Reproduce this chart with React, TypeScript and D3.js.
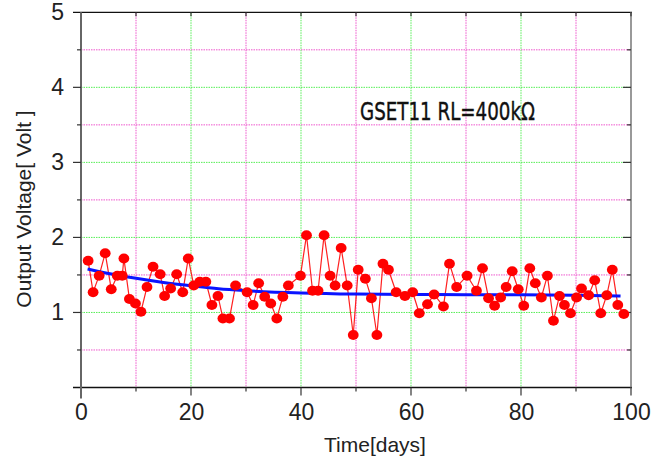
import React, { useRef, useEffect } from "react";
import * as d3 from "d3";

const days = [
  1.3, 2.2, 3.3, 4.4, 5.5, 6.6, 7.5, 7.8, 8.8, 9.9,
  10.9, 12.0, 13.1, 14.4, 15.2, 16.3, 17.4, 18.5, 19.5, 20.5,
  21.6, 22.7, 23.8, 24.9, 25.8, 27.0, 28.1, 30.2, 31.3, 32.3,
  33.4, 34.5, 35.6, 36.7, 37.7, 39.9, 41.0, 42.1, 43.1, 44.2,
  45.3, 46.2, 47.3, 48.4, 49.5, 50.4, 51.7, 52.8, 53.8, 54.9,
  55.9, 57.3, 58.9, 60.3, 61.5, 63.0, 64.2, 65.9, 67.0, 68.3,
  70.2, 71.9, 73.0, 74.1, 75.2, 76.3, 77.3, 78.4, 79.5, 80.5,
  81.6, 82.6, 83.7, 84.8, 85.9, 87.0, 87.9, 89.0, 90.1, 91.0,
  92.3, 93.4, 94.5, 95.6, 96.6, 97.6, 98.7,
];
const voltage = [
  1.69, 1.27, 1.49, 1.79, 1.31, 1.49, 1.49, 1.72, 1.18, 1.12,
  1.01, 1.34, 1.61, 1.51, 1.22, 1.32, 1.51, 1.27, 1.72, 1.36,
  1.41, 1.41, 1.1, 1.22, 0.92, 0.92, 1.36, 1.27, 1.1, 1.39,
  1.21, 1.12, 0.92, 1.21, 1.36, 1.49, 2.03, 1.29, 1.29, 2.03,
  1.49, 1.36, 1.86, 1.36, 0.7, 1.57, 1.45, 1.19, 0.7, 1.65,
  1.57, 1.27, 1.22, 1.27, 0.99, 1.11, 1.24, 1.08, 1.65, 1.34,
  1.49, 1.29, 1.59, 1.19, 1.09, 1.2, 1.34, 1.55, 1.31, 1.09,
  1.59, 1.39, 1.2, 1.49, 0.89, 1.22, 1.1, 0.99, 1.2, 1.32,
  1.23, 1.43, 0.99, 1.23, 1.57, 1.1, 0.98,
];

// fitted trend (blue)
const trendDays = [1.2, 5, 10, 15, 20, 25, 30, 40, 50, 60, 70, 80, 90, 98.1];
const trendVolt = [1.58, 1.52, 1.455, 1.4, 1.355, 1.315, 1.29, 1.26, 1.245, 1.24, 1.237, 1.235, 1.23, 1.22];

const xTickLabels = [0, 20, 40, 60, 80, 100];
const yTickLabels = [1, 2, 3, 4, 5];
const annotation = "GSET11 RL=400k\u03a9";

const LABEL_FONT = "'Liberation Sans', Arial, sans-serif";

const VoltageChart = () => {
  const svgRef = useRef(null);

  useEffect(() => {
    const svg = d3.select(svgRef.current);
    svg.selectAll("*").remove();

    const x = d3.scaleLinear().domain([0, 100]).range([81, 631]);
    const y = d3.scaleLinear().domain([0, 5]).range([387.5, 12.3]);
    const [x0, x1] = x.range();
    const [yb, yt] = y.range();

    const green = "#55ee55";
    const pink = "#ee55cc";

    // grid lines
    const grid = svg.append("g");
    grid
      .selectAll("line.v")
      .data(d3.range(10, 100, 10))
      .enter()
      .append("line")
      .attr("x1", (d) => x(d))
      .attr("x2", (d) => x(d))
      .attr("y1", yt)
      .attr("y2", yb)
      .attr("stroke", (d) => (d % 20 === 0 ? green : pink))
      .attr("stroke-width", 1)
      .attr("stroke-dasharray", "1.5,1");
    grid
      .selectAll("line.h")
      .data(d3.range(0.5, 5, 0.5))
      .enter()
      .append("line")
      .attr("x1", x0)
      .attr("x2", x1)
      .attr("y1", (d) => y(d))
      .attr("y2", (d) => y(d))
      .attr("stroke", (d) => (d % 1 === 0 ? green : pink))
      .attr("stroke-width", 1)
      .attr("stroke-dasharray", "1.5,1");

    // frame
    const frame = svg.append("g");
    frame.append("line").attr("x1", x0 - 8).attr("x2", x1 + 1).attr("y1", yt).attr("y2", yt)
      .attr("stroke", "#111").attr("stroke-width", 1.2);
    frame.append("line").attr("x1", x0 - 8).attr("x2", x1 + 1).attr("y1", yb).attr("y2", yb)
      .attr("stroke", "#111").attr("stroke-width", 1.4);
    frame.append("line").attr("x1", x1).attr("x2", x1).attr("y1", yt).attr("y2", yb)
      .attr("stroke", "#777").attr("stroke-width", 1.5);
    frame.append("line").attr("x1", x0).attr("x2", x0).attr("y1", yt).attr("y2", yb + 11)
      .attr("stroke", "#666").attr("stroke-width", 2);

    // ticks
    const ticks = svg.append("g").attr("stroke", "#333").attr("stroke-width", 1.2);
    d3.range(10, 101, 10).forEach((d) => {
      const len = d % 20 === 0 ? 8 : 4;
      ticks.append("line").attr("x1", x(d)).attr("x2", x(d)).attr("y1", yb).attr("y2", yb + len);
      ticks.append("line").attr("x1", x(d)).attr("x2", x(d)).attr("y1", yt).attr("y2", yt + 4);
    });
    d3.range(0.5, 5, 0.5).forEach((d) => {
      const len = d % 1 === 0 ? 8 : 4;
      ticks.append("line").attr("x1", x0).attr("x2", x0 - len).attr("y1", y(d)).attr("y2", y(d));
      ticks.append("line").attr("x1", x1).attr("x2", x1 - len).attr("y1", y(d)).attr("y2", y(d));
    });

    // tick labels
    svg
      .append("g")
      .attr("transform", "translate(0," + yb + ")")
      .style("font-family", LABEL_FONT)
      .style("font-size", "23px")
      .call(d3.axisBottom(x).tickValues(xTickLabels).tickFormat(d3.format("d")).tickSize(0).tickPadding(16))
      .call((g) => g.select(".domain").remove())
      .selectAll("text")
      .attr("fill", "#222");
    svg
      .append("g")
      .attr("transform", "translate(" + x0 + ",0)")
      .style("font-family", LABEL_FONT)
      .style("font-size", "23px")
      .call(d3.axisLeft(y).tickValues(yTickLabels).tickFormat(d3.format("d")).tickSize(0).tickPadding(17))
      .call((g) => g.select(".domain").remove())
      .selectAll("text")
      .attr("fill", "#222");

    // axis titles
    svg
      .append("text")
      .attr("x", 375)
      .attr("y", 452)
      .attr("text-anchor", "middle")
      .style("font-family", LABEL_FONT)
      .style("font-size", "21px")
      .attr("fill", "#222")
      .text("Time[days]");
    svg
      .append("text")
      .attr("transform", "translate(31,209) rotate(-90)")
      .attr("text-anchor", "middle")
      .style("font-family", LABEL_FONT)
      .style("font-size", "21px")
      .attr("fill", "#222")
      .text("Output Voltage[ Volt ]");

    // annotation (condensed, slightly heavy face in the original)
    svg
      .append("text")
      .attr("x", 360)
      .attr("y", 120)
      .attr("textLength", 175)
      .attr("lengthAdjust", "spacingAndGlyphs")
      .style("font-family", "'DejaVu Sans', sans-serif")
      .style("font-size", "24px")
      .attr("fill", "#111")
      .attr("stroke", "#111")
      .attr("stroke-width", 0.4)
      .text(annotation);

    // data line and markers
    const pts = days.map((d, i) => [d, voltage[i]]);
    const line = d3.line().x((d) => x(d[0])).y((d) => y(d[1]));
    svg
      .append("path")
      .attr("d", line(pts))
      .attr("fill", "none")
      .attr("stroke", "#ff2020")
      .attr("stroke-width", 1.2);

    const trend = trendDays.map((d, i) => [d, trendVolt[i]]);
    svg
      .append("path")
      .attr("d", line.curve(d3.curveMonotoneX)(trend))
      .attr("fill", "none")
      .attr("stroke", "#0a14ff")
      .attr("stroke-width", 3);

    svg
      .selectAll("ellipse.pt")
      .data(pts)
      .enter()
      .append("ellipse")
      .attr("cx", (d) => x(d[0]))
      .attr("cy", (d) => y(d[1]))
      .attr("rx", 5.4)
      .attr("ry", 5)
      .attr("fill", "#ff0000");
  }, []);

  return (
    <svg
      ref={svgRef}
      width={660}
      height={456}
      style={{ position: "absolute", left: 0, top: 0, background: "#fff" }}
    />
  );
};

export default function App() {
  return <VoltageChart />;
}
